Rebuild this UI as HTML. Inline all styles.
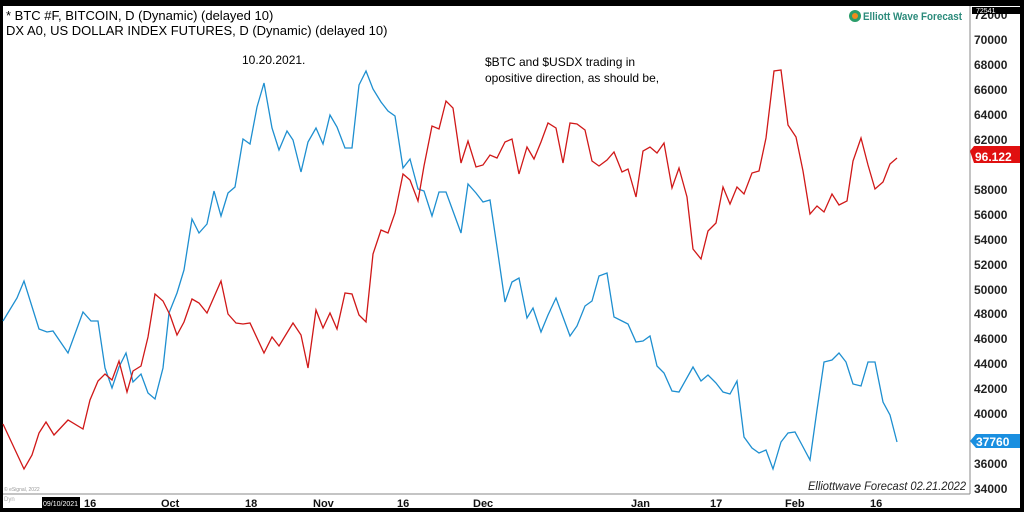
<!DOCTYPE html>
<html><head><meta charset="utf-8"><style>
body{margin:0;background:#000;}
svg{display:block;font-family:"Liberation Sans",Arial,sans-serif;}
</style></head><body>
<svg width="1024" height="512" viewBox="0 0 1024 512">
<rect x="0" y="0" width="1024" height="512" fill="#000"/>
<rect x="3" y="6" width="1017" height="502" fill="#fff"/>
<line x1="970" y1="6" x2="970" y2="494" stroke="#888" stroke-width="1"/>
<line x1="3" y1="494" x2="970" y2="494" stroke="#888" stroke-width="1"/>
<g font-size="12" font-weight="bold" fill="#222">
<text x="974" y="19">72000</text><text x="974" y="44">70000</text><text x="974" y="69">68000</text>
<text x="974" y="94">66000</text><text x="974" y="119">64000</text><text x="974" y="144">62000</text>
<text x="974" y="194">58000</text><text x="974" y="219">56000</text><text x="974" y="244">54000</text>
<text x="974" y="269">52000</text><text x="974" y="294">50000</text><text x="974" y="318">48000</text>
<text x="974" y="343">46000</text><text x="974" y="368">44000</text><text x="974" y="393">42000</text>
<text x="974" y="418">40000</text><text x="974" y="468">36000</text><text x="974" y="493">34000</text>
</g>
<rect x="972" y="7" width="48" height="7" fill="#000"/>
<text x="976" y="13" font-size="7" fill="#fff">72541</text>
<polygon points="970,151 974,146 1020,146 1020,163 974,163" fill="#e01010"/>
<text x="975" y="161" font-size="12" font-weight="bold" fill="#fff">96.122</text>
<polygon points="970,441 976,434 1020,434 1020,448 976,448" fill="#1a8fe0"/>
<text x="976" y="446" font-size="12" font-weight="bold" fill="#fff">37760</text>
<g font-size="11" font-weight="bold" fill="#111">
<text x="84" y="507">16</text><text x="161" y="507">Oct</text><text x="245" y="507">18</text>
<text x="313" y="507">Nov</text><text x="397" y="507">16</text><text x="473" y="507">Dec</text>
<text x="631" y="507">Jan</text><text x="710" y="507">17</text><text x="785" y="507">Feb</text><text x="870" y="507">16</text>
</g>
<rect x="42" y="497" width="38" height="11" fill="#000"/>
<text x="43" y="506" font-size="7" fill="#fff">09/10/2021</text>
<text x="4" y="501" font-size="6" fill="#aaa">Dyn</text>
<text x="4" y="491" font-size="5" fill="#999">© eSignal, 2022</text>
<text x="808" y="490" font-size="12" font-style="italic" fill="#222" textLength="158" lengthAdjust="spacingAndGlyphs">Elliottwave Forecast  02.21.2022</text>
<circle cx="855" cy="16" r="6" fill="#2a9d6a"/><circle cx="855" cy="16" r="3" fill="#f08a1c"/>
<text x="863" y="20" font-size="11" font-weight="bold" fill="#2a8a7a" textLength="99" lengthAdjust="spacingAndGlyphs">Elliott Wave Forecast</text>
<text x="242" y="64" font-size="12" fill="#000">10.20.2021.</text>
<text x="6" y="20" font-size="13" fill="#000">* BTC #F, BITCOIN, D (Dynamic) (delayed 10)</text>
<text x="6" y="35" font-size="13" fill="#000">DX A0, US DOLLAR INDEX FUTURES, D (Dynamic) (delayed 10)</text>
<text x="485" y="66" font-size="12" fill="#000">$BTC and $USDX trading in</text>
<text x="485" y="82" font-size="12" fill="#000">opositive direction, as should be,</text>
<polyline fill="none" stroke="#1e8fd0" stroke-width="1.3" points="3,321 17,298 24,281 39,329 47,332 53,331 68,353 83,312 91,321 98,321 105,368 112,388 119,367 126,353 133,382 141,374 148,393 155,399 163,368 169,313 177,293 184,270 192,219 199,233 207,224 214,191 221,216 228,193 235,187 243,139 250,144 257,107 264,83 272,128 279,150 287,131 293,140 301,172 308,142 316,128 323,144 330,115 337,127 345,148 352,148 359,85 366,71 373,89 381,102 388,111 395,116 403,168 410,159 418,189 424,191 432,216 439,192 446,192 461,233 468,184 476,193 483,202 490,200 497,247 505,302 512,282 519,278 527,318 533,308 541,332 548,315 556,298 563,317 570,336 577,326 585,306 592,301 599,276 607,273 614,317 622,321 628,324 636,342 643,341 650,336 657,366 664,373 672,391 679,392 693,367 701,381 708,375 716,383 723,392 730,394 737,381 744,437 752,448 759,453 766,450 773,469 781,442 788,433 795,432 802,445 810,460 817,410 824,362 832,360 839,353 846,362 853,384 861,386 868,362 875,362 883,402 890,415 897,442"/>
<polyline fill="none" stroke="#d01818" stroke-width="1.3" points="3,424 24,469 32,455 39,433 46,422 54,435 68,420 83,429 90,400 98,381 105,374 112,380 119,361 127,392 133,371 141,366 148,337 155,294 163,301 170,315 177,335 184,322 192,299 199,303 207,313 221,281 228,314 236,323 243,324 250,323 264,353 272,337 279,346 293,323 301,335 308,368 316,310 323,328 330,313 337,329 345,293 352,294 359,315 366,322 373,254 381,230 388,233 395,213 403,174 410,180 418,201 424,166 432,126 439,129 446,101 453,108 461,163 468,141 476,167 483,165 490,155 497,158 505,142 512,139 519,174 527,147 534,159 541,142 548,123 556,128 563,163 570,123 577,124 585,130 592,161 599,166 607,160 614,152 622,172 628,169 636,197 643,151 650,147 657,153 664,143 672,188 679,168 687,197 693,249 701,259 708,231 716,223 723,187 730,204 737,187 744,194 752,173 759,171 766,138 774,71 781,70 788,125 796,137 803,171 810,214 817,206 824,212 832,194 839,205 847,201 853,161 861,138 868,165 875,189 883,182 890,164 897,158"/>
</svg>
</body></html>
